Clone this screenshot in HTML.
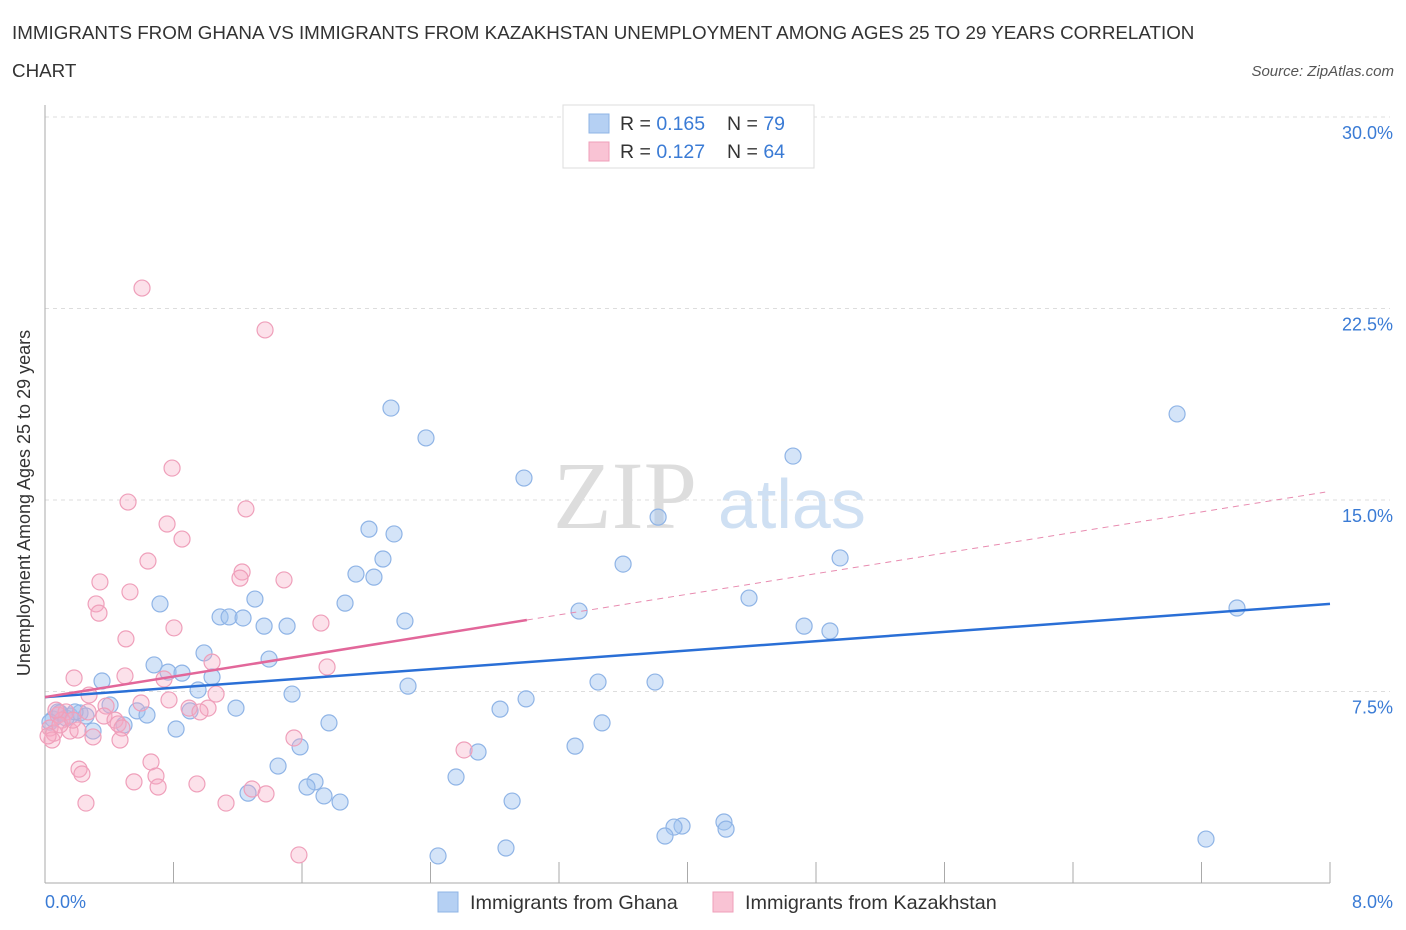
<!DOCTYPE html>
<html><head><meta charset="utf-8"><style>
body{margin:0;background:#fff;font-family:"Liberation Sans",sans-serif;}
#wrap{position:relative;width:1406px;height:930px;overflow:hidden;}
</style></head><body>
<div id="wrap">
<svg id="svg" width="1406" height="930" xmlns="http://www.w3.org/2000/svg">
<text x="12" y="39" font-size="18.8" fill="#333">IMMIGRANTS FROM GHANA VS IMMIGRANTS FROM KAZAKHSTAN UNEMPLOYMENT AMONG AGES 25 TO 29 YEARS CORRELATION</text>
<text x="12" y="77" font-size="18.8" fill="#333">CHART</text>
<text x="1394" y="76" font-size="15" fill="#555" font-style="italic" text-anchor="end">Source: ZipAtlas.com</text>
<g>
<text x="553" y="528" font-size="96" font-family="Liberation Serif,serif" fill="#ddd">ZIP</text>
<text x="718" y="528" font-size="70" fill="#cfe0f3">atlas</text>
</g>
<g id="grid"></g>
<g id="axes"></g>
<g id="pts"></g>
<g id="trend"></g>
<g>
<rect x="563" y="105" width="251" height="63" fill="#fff" stroke="#ddd"/>
<rect x="589" y="114" width="20" height="19" fill="#b5d0f3" stroke="#8fb4e6"/>
<rect x="589" y="142" width="20" height="19" fill="#f9c3d4" stroke="#ef9fba"/>
<text x="620" y="130" font-size="19.5" fill="#333">R = <tspan fill="#3a7bd5">0.165</tspan></text>
<text x="727" y="130" font-size="19.5" fill="#333">N = <tspan fill="#3a7bd5">79</tspan></text>
<text x="620" y="158" font-size="19.5" fill="#333">R = <tspan fill="#3a7bd5">0.127</tspan></text>
<text x="727" y="158" font-size="19.5" fill="#333">N = <tspan fill="#3a7bd5">64</tspan></text>
</g>
<g>
<rect x="438" y="892" width="20" height="20" fill="#b5d0f3" stroke="#8fb4e6"/>
<text x="470" y="909" font-size="19.8" fill="#333">Immigrants from Ghana</text>
<rect x="713" y="892" width="20" height="20" fill="#f9c3d4" stroke="#ef9fba"/>
<text x="745" y="909" font-size="19.8" fill="#333">Immigrants from Kazakhstan</text>
</g>
<text x="22" y="495" font-size="18" fill="#333" text-anchor="middle" transform="rotate(-90 30 495)">Unemployment Among Ages 25 to 29 years</text>
</svg>
</div>
<script>
const yTicks=[7.5,15,22.5,30];
const yTickLabels=["7.5%","15.0%","22.5%","30.0%"];
const xTicks=[0,0.8,1.6,2.4,3.2,4.0,4.8,5.6,6.4,7.2,8.0];
const ghanaX=[2.154,2.372,2.982,4.657,7.048,3.817,2.017,2.173,2.104,1.936,2.048,3.599,4.950,0.716,1.307,1.090,1.146,1.233,1.364,1.507,1.868,2.241,3.325,4.383,7.421,4.726,4.887,0.990,0.679,0.766,0.853,1.040,1.395,0.953,0.355,1.538,2.260,3.443,3.798,2.995,2.833,1.189,0.903,0.405,0.573,0.635,0.492,0.299,0.816,1.768,3.468,1.588,1.451,3.300,2.696,2.559,1.681,1.631,1.737,1.837,1.264,2.908,3.966,3.916,4.227,4.240,3.860,2.447,2.870,7.228,0.081,0.156,0.050,0.093,0.131,0.218,0.255,0.031,0.187];
const ghanaY=[18.60,17.43,15.86,16.72,18.37,14.33,13.86,13.67,12.69,12.10,11.98,12.49,12.73,10.93,11.12,10.42,10.42,10.38,10.06,10.06,10.96,10.26,10.65,11.16,10.77,10.06,9.87,9.01,8.54,8.26,8.22,8.07,8.77,7.56,7.91,7.40,7.71,7.87,7.87,7.21,6.81,6.85,6.74,6.97,6.74,6.58,6.19,5.95,6.03,6.27,6.27,5.33,4.58,5.36,5.13,4.15,3.96,3.76,3.41,3.17,3.52,3.21,2.23,2.19,2.39,2.11,1.84,1.06,1.37,1.72,6.70,6.54,6.42,6.66,6.46,6.66,6.54,6.30,6.70];
const kazX=[0.604,1.370,0.791,0.517,1.251,0.760,0.853,0.641,1.227,1.214,1.488,0.342,0.529,0.318,0.336,0.803,1.718,0.504,1.040,1.756,0.498,0.181,0.741,0.274,1.065,0.598,0.772,0.380,0.897,1.015,0.965,0.367,0.436,0.455,0.479,0.299,0.467,1.550,2.609,0.660,0.212,0.230,0.691,0.554,0.704,0.946,1.289,1.127,1.376,0.255,1.581,0.081,0.131,0.106,0.031,0.056,0.044,0.156,0.205,0.093,0.174,0.268,0.019,0.068];
const kazY=[23.30,21.66,16.25,14.92,14.65,14.06,13.47,12.61,12.18,11.94,11.87,11.79,11.40,10.93,10.57,9.99,10.18,9.56,8.65,8.46,8.11,8.03,7.99,7.36,7.40,7.05,7.17,6.93,6.85,6.85,6.70,6.54,6.38,6.23,6.07,5.72,5.60,5.68,5.21,4.74,4.46,4.27,4.19,3.96,3.76,3.88,3.68,3.13,3.49,3.13,1.10,6.58,6.70,6.38,6.07,5.87,5.60,5.95,5.99,6.19,6.38,6.70,5.76,6.77];
const ghanaTrend=[[0,7.28],[8.0,10.93]];
const kazTrendSolid=[[0,7.28],[3.0,10.30]];
const kazTrendDash=[[3.0,10.30],[7.97,15.31]];

const NS="http://www.w3.org/2000/svg";
const X=v=>45+v/8*1285;
const Y=v=>883-v/30*766;
function mk(t,a,p){const e=document.createElementNS(NS,t);for(const k in a)e.setAttribute(k,a[k]);p.appendChild(e);return e;}
const grid=document.getElementById('grid'),axes=document.getElementById('axes'),pts=document.getElementById('pts'),trend=document.getElementById('trend');
yTicks.forEach((t,i)=>{
 const g=mk('line',{x1:45,x2:1390,y1:Y(t),y2:Y(t),stroke:'#ddd','stroke-dasharray':'4,4'},grid);
 
 
 const l=mk('text',{x:1393,y:Y(t)+22,'font-size':18,fill:'#3a7bd5','text-anchor':'end'},axes);
 l.textContent=yTickLabels[i];
 
 
});
const ya=mk('line',{x1:45,x2:45,y1:105,y2:883,stroke:'#aaa'},axes);


const xa=mk('line',{x1:45,x2:1330,y1:883,y2:883,stroke:'#aaa'},axes);


xTicks.forEach(t=>{
 const k=mk('line',{x1:X(t),x2:X(t),y1:862,y2:883,stroke:'#aaa'},axes);
 
 
});
const x0=mk('text',{x:45,y:908,'font-size':18,fill:'#3a7bd5'},axes);x0.textContent='0.0%';


const x1=mk('text',{x:1393,y:908,'font-size':18,fill:'#3a7bd5','text-anchor':'end'},axes);x1.textContent='8.0%';


ghanaX.forEach((v,i)=>{
 const c=mk('circle',{cx:X(v),cy:Y(ghanaY[i]),r:8,fill:'rgba(160,196,240,0.45)',stroke:'#8fb4e6','stroke-width':1.2},pts);
 
 
});
kazX.forEach((v,i)=>{
 const c=mk('circle',{cx:X(v),cy:Y(kazY[i]),r:8,fill:'rgba(245,170,195,0.35)',stroke:'#ef9fba','stroke-width':1.2},pts);
 
 
});
const tg=mk('line',{x1:X(ghanaTrend[0][0]),y1:Y(ghanaTrend[0][1]),x2:X(ghanaTrend[1][0]),y2:Y(ghanaTrend[1][1]),stroke:'#2a6fd6','stroke-width':2.5},trend);


const tk=mk('line',{x1:X(kazTrendSolid[0][0]),y1:Y(kazTrendSolid[0][1]),x2:X(kazTrendSolid[1][0]),y2:Y(kazTrendSolid[1][1]),stroke:'#e2679a','stroke-width':2.5},trend);


const td=mk('line',{x1:X(kazTrendDash[0][0]),y1:Y(kazTrendDash[0][1]),x2:X(kazTrendDash[1][0]),y2:Y(kazTrendDash[1][1]),stroke:'#e88bb0','stroke-width':1,'stroke-dasharray':'6,5'},trend);


</script>
</body></html>
